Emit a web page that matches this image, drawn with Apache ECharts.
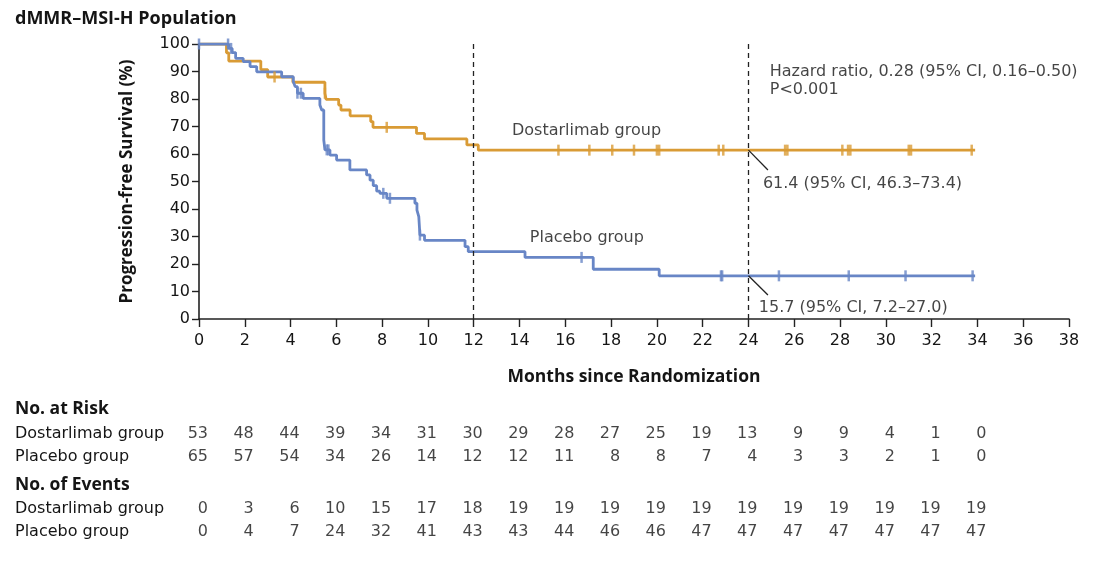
<!DOCTYPE html>
<html>
<head>
<meta charset="utf-8">
<script src="https://cdn.jsdelivr.net/npm/echarts@6/dist/echarts.min.js"></script>
<style>
html,body{margin:0;padding:0;background:#fff;}
#main{width:1109px;height:561px;}
</style>
</head>
<body>
<div id="main"></div>
<script>
// ---------- data ----------
const xTicks = [0,2,4,6,8,10,12,14,16,18,20,22,24,26,28,30,32,34,36,38];
const yTicks = [0,10,20,30,40,50,60,70,80,90,100];

// Kaplan-Meier steps: [month, survival % after that month]
const kmDostarlimab = [
  [0,100],[1.2,96.8],[1.3,93.8],[2.7,90.7],[3.0,88.0],[4.1,86.1],[5.5,82.1],[5.55,79.9],
  [6.1,77.8],[6.2,76.0],[6.6,73.9],[7.5,71.8],[7.6,69.7],[9.5,67.5],[9.85,65.5],
  [11.7,63.3],[12.2,61.4],[33.9,61.4]
];
const kmPlacebo = [
  [0,100],[1.3,98.4],[1.45,96.9],[1.6,94.8],[1.93,93.6],[2.23,91.8],[2.52,89.9],
  [3.61,88.1],[4.12,86.3],[4.2,84.5],[4.3,82.1],[4.55,80.2],[5.28,77.8],[5.36,76.0],
  [5.45,65.1],[5.5,61.5],[5.72,59.6],[6.01,57.8],[6.59,54.2],[7.32,52.4],[7.47,50.5],
  [7.61,48.5],[7.76,46.5],[7.9,45.7],[8.2,43.9],[9.43,42.1],[9.52,39.6],[9.6,37.2],
  [9.65,30.5],[9.85,28.6],[11.62,26.3],[11.76,24.5],[14.24,22.4],[17.22,18.1],
  [20.1,15.7],[33.9,15.7]
];
// censored observations
const censorDostarlimab = [
  [3.3,88.0],[5.5,82.1],[8.2,69.7],[15.7,61.4],[17.05,61.4],[18.05,61.4],[19.0,61.4],
  [20.0,61.4],[20.1,61.4],[22.7,61.4],[22.9,61.4],[25.6,61.4],[25.7,61.4],[28.1,61.4],
  [28.35,61.4],[28.45,61.4],[31.0,61.4],[31.1,61.4],[33.75,61.4]
];
const censorPlacebo = [
  [0,100],[1.27,100],[1.4,98.4],[4.3,82.1],[4.45,82.1],[5.58,61.5],[5.65,61.5],
  [8.05,45.7],[8.34,43.9],[9.65,30.5],[16.71,22.4],[22.8,15.7],[22.85,15.7],
  [25.33,15.7],[28.38,15.7],[30.86,15.7],[33.79,15.7]
];

// table
const tableMonths = [0,2,4,6,8,10,12,14,16,18,20,22,24,26,28,30,32,34];
const riskDostarlimab = [53,48,44,39,34,31,30,29,28,27,25,19,13,9,9,4,1,0];
const riskPlacebo = [65,57,54,34,26,14,12,12,11,8,8,7,4,3,3,2,1,0];
const eventsDostarlimab = [0,3,6,10,15,17,18,19,19,19,19,19,19,19,19,19,19,19];
const eventsPlacebo = [0,4,7,24,32,41,43,43,44,46,46,47,47,47,47,47,47,47];
const groupNames = ['Dostarlimab group','Placebo group'];

// annotation texts (anchored in data coordinates)
const annotations = [
  {value:[24.93,89.8], name:'Hazard ratio, 0.28 (95% CI, 0.16–0.50)'},
  {value:[24.93,83.3], name:'P<0.001'},
  {value:[13.67,68.4], name:'Dostarlimab group'},
  {value:[14.45,29.5], name:'Placebo group'},
  {value:[24.63,49.2], name:'61.4 (95% CI, 46.3–73.4)'},
  {value:[24.45,4.0],  name:'15.7 (95% CI, 7.2–27.0)'}
];
const leaders = [
  [[24,61.4],[24.85,54.2]],
  [[24,15.7],[24.85,8.7]]
];
const medianLines = [12,24];

// ---------- style ----------
const FONT = 'DejaVu Sans';
const BFONT = 'Open Sans';
const TXT = '#151515';
const ORANGE = '#D99B35';
const BLUE = '#6886C6';

const chart = echarts.init(document.getElementById('main'));

function tableSeries(vals, row, gridIdx){
  return {
    type:'scatter', xAxisIndex:gridIdx, yAxisIndex:gridIdx, symbolSize:0, silent:true,
    data: tableMonths.map((m,i)=>[m,row,vals[i]]),
    label:{show:true, position:'inside', align:'right', offset:[9,0],
      formatter:p=>String(p.data[2]), color:TXT, fontFamily:FONT, fontSize:16}
  };
}

const option = {
  animation:false,
  textStyle:{fontFamily:FONT, color:TXT},
  title:[
    {text:'dMMR–MSI-H Population', left:10, top:5,
      textStyle:{fontFamily:BFONT, fontWeight:'bold', fontSize:18, color:TXT}},
    {text:'No. at Risk', left:10, top:395,
      textStyle:{fontFamily:BFONT, fontWeight:'bold', fontSize:17.5, color:TXT}},
    {text:'No. of Events', left:10, top:471,
      textStyle:{fontFamily:BFONT, fontWeight:'bold', fontSize:17.5, color:TXT}}
  ],
  grid:[
    {left:199, right:40, top:44, height:275},
    {left:199, right:40, top:422, height:46},
    {left:199, right:40, top:497, height:46}
  ],
  xAxis:[
    {type:'value', gridIndex:0, min:0, max:38, interval:2,
      axisLine:{show:true, onZero:false, lineStyle:{color:'#222', width:1.6}},
      axisTick:{show:true, length:8, lineStyle:{color:'#222', width:1.4}},
      splitLine:{show:false},
      axisLabel:{color:TXT, fontFamily:FONT, fontSize:16, margin:14,
        formatter:v=>xTicks.includes(v)?String(v):''},
      name:'Months since Randomization', nameLocation:'middle', nameGap:49,
      nameTextStyle:{fontFamily:BFONT, fontWeight:'bold', fontSize:17.5, color:TXT}},
    {type:'value', gridIndex:1, min:0, max:38, show:false},
    {type:'value', gridIndex:2, min:0, max:38, show:false}
  ],
  yAxis:[
    {type:'value', gridIndex:0, min:0, max:100, interval:10,
      axisLine:{show:true, lineStyle:{color:'#222', width:1.6}},
      axisTick:{show:true, length:7, lineStyle:{color:'#222', width:1.4}},
      splitLine:{show:false},
      axisLabel:{color:TXT, fontFamily:FONT, fontSize:16, margin:9,
        formatter:v=>yTicks.includes(v)?String(v):''},
      name:'Progression-free Survival (%)', nameLocation:'middle', nameGap:63,
      nameTextStyle:{fontFamily:BFONT, fontWeight:'bold', fontSize:17, color:TXT}},
    {type:'category', gridIndex:1, data:groupNames, inverse:true,
      axisLine:{show:false}, axisTick:{show:false},
      axisLabel:{align:'left', margin:184, color:TXT, fontFamily:FONT, fontSize:16}},
    {type:'category', gridIndex:2, data:groupNames, inverse:true,
      axisLine:{show:false}, axisTick:{show:false},
      axisLabel:{align:'left', margin:184, color:TXT, fontFamily:FONT, fontSize:16}}
  ],
  series:[
    {type:'line', name:'Dostarlimab', step:'end', data:kmDostarlimab, showSymbol:false,
      symbol:'none', lineStyle:{color:ORANGE, width:2.8}, z:3,
      markLine:{silent:true, symbol:'none', label:{show:false},
        lineStyle:{color:'#222', type:[5,4], width:1.3},
        data:medianLines.map(v=>({xAxis:v}))}},
    {type:'line', name:'Placebo', step:'end', data:kmPlacebo, showSymbol:false,
      symbol:'none', lineStyle:{color:BLUE, width:2.8}, z:3},
    {type:'scatter', data:censorDostarlimab, symbol:'rect', symbolSize:[2.5,11],
      itemStyle:{color:ORANGE}, z:4, silent:true},
    {type:'scatter', data:censorPlacebo, symbol:'rect', symbolSize:[2.5,11],
      itemStyle:{color:BLUE}, z:4, silent:true},
    {type:'lines', coordinateSystem:'cartesian2d', silent:true, z:5,
      data:leaders.map(c=>({coords:c})),
      lineStyle:{color:'#222', width:1.3, opacity:1}},
    {type:'scatter', data:annotations, symbolSize:0, silent:true, z:6,
      label:{show:true, position:'inside', align:'left', verticalAlign:'middle',
        formatter:p=>p.name, color:TXT, fontFamily:FONT, fontSize:16}},
    tableSeries(riskDostarlimab,'Dostarlimab group',1),
    tableSeries(riskPlacebo,'Placebo group',1),
    tableSeries(eventsDostarlimab,'Dostarlimab group',2),
    tableSeries(eventsPlacebo,'Placebo group',2)
  ]
};
chart.setOption(option);
</script>
</body>
</html>
